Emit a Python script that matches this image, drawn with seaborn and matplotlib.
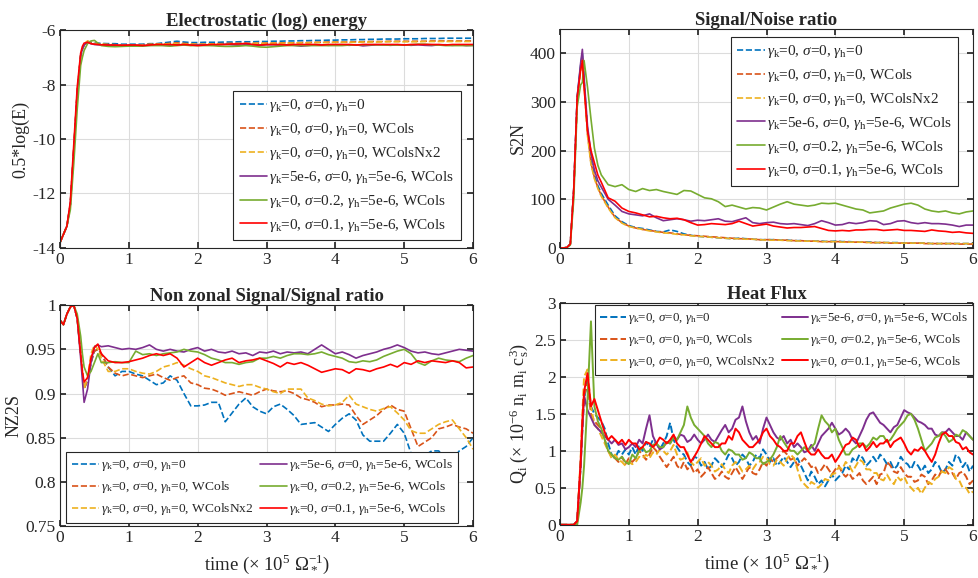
import numpy as np
import matplotlib
matplotlib.use("Agg")
import matplotlib.pyplot as plt
import seaborn as sns

# time axis (x 10^5 Omega_*^-1)
t = [0, 0.05, 0.1, 0.15, 0.2, 0.25, 0.3, 0.325, 0.35, 0.4, 0.45, 0.5, 0.55, 0.6, 0.7, 0.8, 0.9, 1.0,
     1.1, 1.2, 1.3, 1.4, 1.5, 1.6, 1.7, 1.8, 1.9, 2.0, 2.1, 2.2, 2.3, 2.4, 2.5, 2.6, 2.7, 2.8, 2.9, 3.0,
     3.1, 3.2, 3.3, 3.4, 3.5, 3.6, 3.7, 3.8, 3.9, 4.0, 4.1, 4.2, 4.3, 4.4, 4.5, 4.6, 4.7, 4.8, 4.9, 5.0,
     5.1, 5.2, 5.3, 5.4, 5.5, 5.6, 5.7, 5.8, 5.9, 6.0]

# finer time axis for the (noisy) heat flux
t_q = [0, 0.05, 0.1, 0.15, 0.2, 0.25, 0.3, 0.325, 0.35, 0.4, 0.45, 0.5, 0.55, 0.6,
       0.65, 0.7, 0.75, 0.8, 0.85, 0.9, 0.95, 1.0,
       1.05, 1.1, 1.15, 1.2, 1.25, 1.3, 1.35, 1.4, 1.45, 1.5, 1.55, 1.6, 1.65, 1.7, 1.75, 1.8, 1.85, 1.9, 1.95, 2.0,
       2.05, 2.1, 2.15, 2.2, 2.25, 2.3, 2.35, 2.4, 2.45, 2.5, 2.55, 2.6, 2.65, 2.7, 2.75, 2.8, 2.85, 2.9, 2.95, 3.0,
       3.05, 3.1, 3.15, 3.2, 3.25, 3.3, 3.35, 3.4, 3.45, 3.5, 3.55, 3.6, 3.65, 3.7, 3.75, 3.8, 3.85, 3.9, 3.95, 4.0,
       4.05, 4.1, 4.15, 4.2, 4.25, 4.3, 4.35, 4.4, 4.45, 4.5, 4.55, 4.6, 4.65, 4.7, 4.75, 4.8, 4.85, 4.9, 4.95, 5.0,
       5.05, 5.1, 5.15, 5.2, 5.25, 5.3, 5.35, 5.4, 5.45, 5.5, 5.55, 5.6, 5.65, 5.7, 5.75, 5.8, 5.85, 5.9, 5.95, 6.0]

labels = [r"$\gamma_{\rm k}$=0, $\sigma$=0, $\gamma_{\rm h}$=0",
          r"$\gamma_{\rm k}$=0, $\sigma$=0, $\gamma_{\rm h}$=0, WCols",
          r"$\gamma_{\rm k}$=0, $\sigma$=0, $\gamma_{\rm h}$=0, WColsNx2",
          r"$\gamma_{\rm k}$=5e-6, $\sigma$=0, $\gamma_{\rm h}$=5e-6, WCols",
          r"$\gamma_{\rm k}$=0, $\sigma$=0.2, $\gamma_{\rm h}$=5e-6, WCols",
          r"$\gamma_{\rm k}$=0, $\sigma$=0.1, $\gamma_{\rm h}$=5e-6, WCols"]
colors = ["#0072BD", "#D95319", "#EDB120", "#7E2F8E", "#77AC30", "#FF0000"]
styles = ["--", "--", "--", "-", "-", "-"]

# --- Electrostatic (log) energy ---
energy_blue = [-13.8, -13.5, -13.2, -12.4, -10.4, -8.3, -6.95, -6.7, -6.55, -6.42, -6.45, -6.48, -6.48, -6.49, -6.5, -6.5, -6.52, -6.52,
               -6.52, -6.52, -6.5, -6.5, -6.47, -6.44, -6.41, -6.44, -6.46, -6.46, -6.45, -6.45, -6.45, -6.44, -6.44, -6.43, -6.43, -6.43, -6.42, -6.42,
               -6.41, -6.41, -6.4, -6.4, -6.39, -6.39, -6.38, -6.38, -6.37, -6.37, -6.36, -6.36, -6.35, -6.35, -6.34, -6.34, -6.33, -6.33, -6.33, -6.32,
               -6.32, -6.32, -6.31, -6.31, -6.31, -6.3, -6.3, -6.3, -6.3, -6.3]
energy_orange = [-13.8, -13.5, -13.2, -12.4, -10.4, -8.3, -6.95, -6.7, -6.55, -6.42, -6.46, -6.5, -6.5, -6.52, -6.53, -6.54, -6.55, -6.56,
                 -6.56, -6.54, -6.52, -6.52, -6.51, -6.49, -6.47, -6.49, -6.51, -6.52, -6.52, -6.51, -6.5, -6.5, -6.49, -6.49, -6.49, -6.49, -6.48, -6.48,
                 -6.48, -6.47, -6.47, -6.47, -6.46, -6.46, -6.45, -6.45, -6.44, -6.44, -6.44, -6.44, -6.43, -6.43, -6.42, -6.42, -6.42, -6.41, -6.41, -6.41,
                 -6.41, -6.41, -6.41, -6.4, -6.4, -6.4, -6.4, -6.4, -6.4, -6.4]
energy_yellow = [-13.8, -13.5, -13.2, -12.4, -10.4, -8.3, -6.95, -6.7, -6.5, -6.4, -6.45, -6.5, -6.5, -6.52, -6.53, -6.54, -6.55, -6.55,
                 -6.55, -6.55, -6.53, -6.52, -6.51, -6.5, -6.5, -6.51, -6.52, -6.52, -6.52, -6.51, -6.51, -6.5, -6.5, -6.5, -6.5, -6.49, -6.49, -6.49,
                 -6.48, -6.48, -6.48, -6.47, -6.47, -6.47, -6.46, -6.46, -6.46, -6.45, -6.45, -6.45, -6.45, -6.44, -6.44, -6.44, -6.43, -6.43, -6.43, -6.43,
                 -6.43, -6.43, -6.42, -6.42, -6.42, -6.42, -6.42, -6.42, -6.42, -6.42]
energy_purple = [-13.8, -13.5, -13.2, -12.4, -10.4, -8.3, -6.95, -6.7, -6.55, -6.45, -6.5, -6.53, -6.54, -6.55, -6.55, -6.56, -6.56, -6.56,
                 -6.56, -6.57, -6.56, -6.54, -6.56, -6.57, -6.54, -6.54, -6.56, -6.54, -6.54, -6.56, -6.54, -6.52, -6.54, -6.56, -6.54, -6.54, -6.56, -6.54,
                 -6.54, -6.56, -6.54, -6.56, -6.59, -6.57, -6.54, -6.54, -6.56, -6.54, -6.54, -6.56, -6.54, -6.58, -6.56, -6.54, -6.54, -6.56, -6.54, -6.54,
                 -6.56, -6.54, -6.56, -6.57, -6.54, -6.54, -6.56, -6.54, -6.57, -6.56]
energy_green = [-13.8, -13.5, -13.2, -12.6, -10.9, -8.9, -7.3, -7.0, -6.75, -6.5, -6.4, -6.38, -6.48, -6.57, -6.6, -6.61, -6.6, -6.59,
                -6.59, -6.59, -6.57, -6.57, -6.57, -6.59, -6.57, -6.55, -6.57, -6.57, -6.57, -6.57, -6.59, -6.6, -6.6, -6.59, -6.57, -6.59, -6.62, -6.63,
                -6.61, -6.59, -6.57, -6.57, -6.57, -6.57, -6.57, -6.57, -6.57, -6.57, -6.57, -6.55, -6.55, -6.54, -6.54, -6.54, -6.55, -6.55, -6.55, -6.55,
                -6.54, -6.52, -6.52, -6.54, -6.55, -6.57, -6.57, -6.57, -6.57, -6.57]
energy_red = [-13.8, -13.5, -13.2, -12.3, -10.2, -8.1, -6.85, -6.6, -6.48, -6.45, -6.5, -6.52, -6.53, -6.54, -6.55, -6.55, -6.56, -6.55,
              -6.55, -6.57, -6.55, -6.53, -6.53, -6.53, -6.55, -6.53, -6.55, -6.57, -6.55, -6.53, -6.53, -6.53, -6.51, -6.51, -6.49, -6.53, -6.55, -6.53,
              -6.53, -6.53, -6.55, -6.53, -6.53, -6.53, -6.53, -6.55, -6.53, -6.53, -6.53, -6.53, -6.55, -6.53, -6.53, -6.53, -6.53, -6.53, -6.53, -6.55,
              -6.53, -6.53, -6.53, -6.53, -6.53, -6.55, -6.53, -6.53, -6.53, -6.53]

# --- Signal/Noise ratio ---
s2n_blue = [0, 0, 1, 8, 120, 310, 375, 400, 345, 240, 180, 150, 128, 112, 88, 66, 54, 46,
            42, 40, 37, 34, 33, 37, 34, 29, 26, 24, 23, 22, 21, 20, 19, 20, 19, 18, 17, 17,
            17, 16, 16, 15, 15, 14, 14, 14, 13, 14, 13, 13, 12, 12, 12, 11, 11, 11, 11, 10,
            10, 10, 10, 9, 9, 9, 9, 9, 9, 9]
s2n_orange = [0, 0, 1, 8, 120, 305, 370, 395, 340, 235, 175, 145, 124, 108, 84, 63, 52, 45,
              41, 38, 36, 34, 32, 31, 29, 27, 26, 25, 24, 23, 22, 21, 20, 19, 19, 18, 17, 17,
              17, 16, 16, 15, 15, 14, 14, 13, 13, 13, 13, 12, 12, 12, 11, 11, 11, 10, 10, 10,
              10, 10, 9, 9, 9, 9, 9, 8, 8, 8]
s2n_yellow = [0, 0, 1, 8, 115, 300, 365, 390, 335, 230, 172, 142, 122, 106, 82, 62, 51, 44,
              41, 38, 35, 33, 31, 30, 28, 27, 25, 24, 23, 22, 21, 20, 19, 19, 18, 18, 17, 16,
              16, 16, 15, 15, 14, 14, 14, 13, 13, 13, 12, 12, 12, 12, 11, 11, 11, 11, 10, 10,
              10, 10, 10, 9, 9, 9, 9, 9, 9, 9]
s2n_purple = [0, 0, 1, 8, 120, 310, 380, 408, 350, 250, 195, 160, 138, 125, 100, 88, 75, 70,
              68, 66, 70, 62, 56, 58, 60, 58, 55, 57, 56, 58, 60, 55, 54, 58, 62, 52, 50, 52,
              53, 50, 49, 50, 48, 46, 50, 56, 52, 47, 48, 52, 50, 52, 56, 55, 48, 50, 55, 56,
              52, 50, 52, 50, 50, 49, 47, 44, 47, 47]
s2n_green = [0, 0, 1, 6, 100, 290, 335, 340, 385, 330, 265, 205, 170, 150, 130, 126, 130, 120,
             116, 122, 118, 120, 116, 113, 110, 118, 117, 110, 103, 101, 95, 85, 88, 84, 80, 83, 82, 78,
             84, 90, 95, 90, 88, 86, 88, 92, 91, 92, 88, 84, 80, 78, 72, 74, 76, 82, 86, 90,
             92, 88, 80, 76, 74, 76, 72, 70, 74, 76]
s2n_red = [0, 0, 1, 8, 120, 310, 365, 385, 330, 240, 200, 175, 150, 135, 103, 96, 82, 75,
           72, 68, 64, 65, 62, 60, 61, 58, 52, 47, 48, 50, 49, 48, 50, 55, 50, 45, 47, 49,
           45, 43, 41, 42, 42, 43, 44, 40, 36, 35, 36, 35, 37, 37, 38, 38, 36, 37, 38, 36,
           36, 35, 34, 37, 35, 34, 32, 33, 31, 30]

# --- Non zonal Signal/Signal ratio ---
nz_blue = [0.983, 0.978, 0.99, 0.998, 1.0, 0.985, 0.945, 0.925, 0.905, 0.915, 0.935, 0.948, 0.95, 0.945, 0.93, 0.92, 0.925, 0.925,
           0.922, 0.92, 0.915, 0.91, 0.912, 0.92, 0.915, 0.9, 0.886, 0.886, 0.887, 0.89, 0.89, 0.868, 0.878, 0.888, 0.895, 0.885, 0.88, 0.877,
           0.885, 0.888, 0.882, 0.875, 0.865, 0.866, 0.867, 0.862, 0.857, 0.865, 0.872, 0.877, 0.87, 0.853, 0.846, 0.846, 0.846, 0.855, 0.865, 0.855,
           0.832, 0.832, 0.83, 0.835, 0.835, 0.828, 0.825, 0.835, 0.84, 0.85]
nz_orange = [0.983, 0.978, 0.99, 0.998, 1.0, 0.985, 0.945, 0.925, 0.905, 0.915, 0.935, 0.948, 0.95, 0.945, 0.93, 0.923, 0.92, 0.922,
             0.92, 0.918, 0.92, 0.922, 0.918, 0.915, 0.918, 0.92, 0.912, 0.91, 0.906, 0.905, 0.902, 0.898, 0.9, 0.902, 0.9, 0.898, 0.902, 0.905,
             0.903, 0.902, 0.903, 0.9, 0.895, 0.893, 0.89, 0.885, 0.887, 0.887, 0.888, 0.887, 0.875, 0.865, 0.87, 0.875, 0.882, 0.887, 0.882, 0.88,
             0.86, 0.84, 0.845, 0.85, 0.86, 0.862, 0.865, 0.862, 0.86, 0.855]
nz_yellow = [0.983, 0.978, 0.99, 0.998, 1.0, 0.985, 0.945, 0.925, 0.905, 0.918, 0.945, 0.955, 0.95, 0.94, 0.925, 0.925, 0.928, 0.928,
             0.925, 0.923, 0.922, 0.925, 0.93, 0.932, 0.935, 0.932, 0.928, 0.925, 0.92, 0.918, 0.915, 0.912, 0.91, 0.908, 0.91, 0.91, 0.907, 0.905,
             0.902, 0.9, 0.905, 0.905, 0.905, 0.895, 0.892, 0.888, 0.886, 0.887, 0.89, 0.898, 0.888, 0.885, 0.882, 0.88, 0.883, 0.885, 0.878, 0.87,
             0.858, 0.855, 0.855, 0.86, 0.865, 0.868, 0.87, 0.86, 0.85, 0.837]
nz_purple = [0.983, 0.978, 0.99, 0.998, 1.0, 0.985, 0.94, 0.915, 0.89, 0.905, 0.935, 0.953, 0.955, 0.953, 0.954, 0.952, 0.95, 0.951,
             0.95, 0.952, 0.955, 0.95, 0.948, 0.95, 0.948, 0.947, 0.95, 0.952, 0.948, 0.95, 0.947, 0.946, 0.948, 0.945, 0.946, 0.943, 0.947, 0.946,
             0.948, 0.945, 0.947, 0.946, 0.947, 0.945, 0.95, 0.955, 0.95, 0.945, 0.947, 0.944, 0.94, 0.943, 0.945, 0.947, 0.95, 0.952, 0.955, 0.952,
             0.948, 0.946, 0.947, 0.945, 0.944, 0.946, 0.948, 0.95, 0.949, 0.948]
nz_green = [0.983, 0.978, 0.99, 0.998, 1.0, 0.99, 0.965, 0.945, 0.93, 0.92, 0.925, 0.935, 0.945, 0.935, 0.935, 0.936, 0.935, 0.935,
            0.948, 0.944, 0.945, 0.943, 0.945, 0.946, 0.947, 0.95, 0.948, 0.947, 0.944, 0.94, 0.938, 0.935, 0.935, 0.933, 0.935, 0.936, 0.94, 0.94,
            0.942, 0.94, 0.943, 0.945, 0.945, 0.944, 0.945, 0.947, 0.944, 0.942, 0.94, 0.936, 0.935, 0.937, 0.936, 0.938, 0.942, 0.945, 0.948, 0.95,
            0.945, 0.935, 0.932, 0.937, 0.94, 0.938, 0.937, 0.936, 0.94, 0.943]
nz_red = [0.983, 0.978, 0.99, 0.998, 1.0, 0.985, 0.945, 0.925, 0.913, 0.918, 0.94, 0.952, 0.956, 0.945, 0.937, 0.935, 0.935, 0.936,
          0.938, 0.94, 0.943, 0.945, 0.943, 0.945, 0.94, 0.93, 0.935, 0.94, 0.935, 0.932, 0.935, 0.938, 0.94, 0.935, 0.937, 0.938, 0.94, 0.937,
          0.934, 0.93, 0.935, 0.933, 0.935, 0.932, 0.928, 0.924, 0.926, 0.928, 0.927, 0.923, 0.928, 0.927, 0.925, 0.928, 0.93, 0.933, 0.93, 0.935,
          0.933, 0.937, 0.935, 0.937, 0.936, 0.935, 0.937, 0.935, 0.929, 0.93]

# --- Heat Flux (on t_q) ---
q_blue = [0, 0, 0, 0, 0, 0.05, 0.8, 1.3, 1.7, 1.95, 1.6, 1.5, 1.45, 1.4,
          1.3, 1.1, 0.95, 0.9, 1.0, 0.95, 1.02, 0.95,
          1.05, 0.95, 1.08, 1.0, 1.12, 1.05, 1.15, 1.1, 1.02, 1.1, 1.2, 1.38, 1.15, 1.05, 0.98, 0.95, 0.85, 0.8, 0.92, 0.9,
          0.8, 0.85, 0.75, 0.8, 0.9, 0.85, 0.78, 0.85, 0.95, 0.9, 0.8, 0.85, 0.95, 0.9, 0.8, 0.85, 0.95, 0.9, 1.02, 0.95,
          0.85, 0.9, 0.8, 0.85, 0.92, 0.85, 0.78, 0.85, 0.9, 0.8, 0.7, 0.6, 0.72, 0.65, 0.55, 0.6, 0.52, 0.6, 0.68, 0.6,
          0.65, 0.7, 0.8, 0.75, 0.9, 0.85, 0.95, 0.9, 0.8, 0.85, 0.92, 0.85, 0.95, 0.9, 0.82, 0.85, 0.75, 0.8, 0.92, 0.85,
          0.82, 0.75, 0.85, 0.8, 0.72, 0.8, 0.7, 0.75, 0.85, 0.8, 0.7, 0.75, 0.85, 0.8, 0.95, 0.9, 0.78, 0.85, 0.72, 0.8]
q_orange = [0, 0, 0, 0, 0, 0.05, 0.8, 1.3, 1.75, 1.9, 1.5, 1.4, 1.35, 1.3,
            1.15, 1.0, 0.92, 0.9, 0.85, 0.92, 0.82, 0.9,
            0.85, 0.9, 1.0, 0.95, 0.88, 0.95, 1.05, 1.0, 0.92, 0.85, 0.78, 0.85, 0.92, 0.8, 0.75, 0.85, 0.75, 0.8, 0.7, 0.75,
            0.65, 0.7, 0.78, 0.7, 0.62, 0.65, 0.72, 0.65, 0.62, 0.7, 0.78, 0.7, 0.62, 0.7, 0.78, 0.7, 0.68, 0.75, 0.85, 0.8,
            0.9, 0.85, 0.9, 0.95, 1.0, 0.95, 0.88, 0.9, 0.8, 0.85, 0.9, 0.85, 0.78, 0.8, 0.7, 0.75, 0.82, 0.75, 0.68, 0.75,
            0.8, 0.7, 0.65, 0.7, 0.62, 0.65, 0.7, 0.6, 0.55, 0.6, 0.65, 0.55, 0.68, 0.7, 0.85, 0.8, 0.72, 0.7, 0.78, 0.7,
            0.65, 0.65, 0.58, 0.6, 0.68, 0.65, 0.55, 0.6, 0.68, 0.65, 0.75, 0.75, 0.68, 0.7, 0.62, 0.7, 0.72, 0.65, 0.55, 0.6]
q_yellow = [0, 0, 0, 0, 0, 0.05, 0.9, 1.5, 2.0, 2.1, 1.6, 1.35, 1.3, 1.2,
            1.1, 1.0, 0.9, 0.95, 0.88, 0.85, 0.8, 0.85,
            0.82, 0.85, 0.92, 0.9, 0.95, 0.9, 0.98, 0.95, 1.02, 1.0, 0.95, 1.0, 1.08, 0.95, 0.88, 0.9, 0.98, 0.85, 0.8, 0.85,
            0.9, 0.8, 0.85, 0.8, 0.72, 0.75, 0.82, 0.75, 0.7, 0.8, 0.85, 0.8, 0.72, 0.75, 0.8, 0.75, 0.82, 0.85, 0.92, 0.9,
            0.82, 0.8, 0.88, 0.85, 0.8, 0.9, 0.95, 0.9, 0.75, 0.6, 0.55, 0.5, 0.58, 0.55, 0.5, 0.55, 0.62, 0.6, 0.68, 0.7,
            0.78, 0.75, 0.85, 0.8, 0.72, 0.8, 0.88, 0.85, 0.75, 0.75, 0.7, 0.7, 0.62, 0.6, 0.68, 0.6, 0.55, 0.65, 0.6, 0.65,
            0.55, 0.5, 0.45, 0.5, 0.42, 0.5, 0.58, 0.55, 0.62, 0.65, 0.72, 0.7, 0.78, 0.75, 0.62, 0.6, 0.5, 0.5, 0.42, 0.45]
q_purple = [0, 0, 0, 0, 0, 0.05, 0.8, 1.3, 1.75, 1.55, 1.45, 1.35, 1.3, 1.25,
            1.2, 1.15, 1.1, 1.15, 1.08, 1.1, 1.02, 1.05,
            1.1, 1.05, 1.15, 1.1, 1.3, 1.48, 1.2, 1.1, 1.02, 1.05, 1.12, 1.1, 1.2, 1.15, 1.22, 1.2, 1.12, 1.15, 1.22, 1.15,
            1.1, 1.15, 1.22, 1.15, 1.12, 1.2, 1.28, 1.35, 1.25, 1.3, 1.42, 1.45, 1.6, 1.4, 1.25, 1.15, 1.2, 1.1, 1.3, 1.45,
            1.35, 1.25, 1.18, 1.15, 1.2, 1.1, 1.15, 1.05, 1.1, 1.05, 0.98, 1.0, 1.08, 1.0, 1.1, 1.2, 1.25, 1.3, 1.38, 1.3,
            1.22, 1.25, 1.3, 1.25, 1.15, 1.1, 1.2, 1.3, 1.42, 1.5, 1.52, 1.45, 1.38, 1.35, 1.3, 1.25, 1.32, 1.35, 1.45, 1.55,
            1.52, 1.5, 1.45, 1.4, 1.38, 1.35, 1.3, 1.3, 1.22, 1.2, 1.25, 1.25, 1.3, 1.25, 1.2, 1.2, 1.15, 1.25, 1.2, 1.15]
q_green = [0, 0, 0, 0, 0, 0.0, 0.3, 0.5, 0.8, 1.7, 2.75, 1.6, 1.4, 1.3,
           1.15, 1.0, 0.95, 0.9, 0.88, 0.92, 0.85, 0.82,
           0.95, 0.9, 1.0, 1.05, 0.98, 1.0, 1.08, 1.1, 1.05, 1.05, 1.12, 1.1, 1.18, 1.15, 1.25, 1.35, 1.6, 1.45, 1.35, 1.3,
           1.25, 1.2, 1.1, 1.05, 1.12, 1.1, 1.0, 0.95, 1.02, 1.0, 0.95, 0.95, 0.88, 0.9, 0.98, 0.95, 0.9, 0.9, 0.82, 0.85,
           0.88, 0.95, 1.05, 1.2, 1.12, 1.05, 1.0, 1.0, 0.95, 1.0, 1.05, 1.0, 1.05, 1.1, 1.3, 1.48, 1.4, 1.35, 1.25, 1.3,
           1.15, 1.05, 0.95, 0.95, 1.02, 1.05, 1.1, 1.1, 1.05, 1.1, 1.18, 1.15, 1.2, 1.2, 1.12, 1.15, 1.22, 1.3, 1.35, 1.4,
           1.48, 1.5, 1.42, 1.3, 1.15, 1.0, 1.05, 1.1, 1.18, 1.2, 1.25, 1.2, 1.12, 1.15, 1.22, 1.2, 1.28, 1.25, 1.2, 1.15]
q_red = [0, 0, 0, 0, 0, 0.05, 0.85, 1.4, 1.8, 2.05, 1.6, 1.7, 1.55, 1.4,
         1.25, 1.15, 1.2, 1.15, 1.1, 1.15, 1.08, 1.15,
         1.1, 1.1, 1.02, 1.05, 1.12, 1.1, 1.05, 1.1, 1.18, 1.15, 1.1, 1.15, 1.22, 1.1, 1.05, 1.05, 0.95, 0.85, 0.92, 1.0,
         1.1, 1.2, 1.15, 1.1, 1.05, 1.05, 1.1, 1.1, 1.2, 1.15, 1.3, 1.25, 1.15, 1.1, 1.05, 1.05, 1.1, 1.15, 1.25, 1.3,
         1.2, 1.15, 1.08, 1.05, 1.0, 1.0, 1.1, 1.1, 1.2, 1.25, 1.12, 1.0, 0.95, 0.95, 1.02, 0.95, 0.9, 0.9, 0.95, 0.85,
         0.92, 1.0, 1.08, 1.1, 1.18, 1.15, 1.05, 1.1, 1.0, 1.05, 1.12, 1.05, 1.1, 1.1, 1.15, 1.05, 1.12, 1.15, 1.18, 1.1,
         1.0, 0.95, 1.02, 1.0, 1.05, 1.0, 0.92, 0.85, 0.95, 1.1, 1.22, 1.25, 1.2, 1.2, 1.12, 1.1, 1.02, 1.05, 0.98, 0.95]

panels = [
    dict(title="Electrostatic (log) energy", ylabel="0.5*log(E)", x=t,
         series=[energy_blue, energy_orange, energy_yellow, energy_purple, energy_green, energy_red],
         ylim=(-14, -6), yticks=[-14, -12, -10, -8, -6], yticklabels=["-14", "-12", "-10", "-8", "-6"]),
    dict(title="Signal/Noise ratio", ylabel="S2N", x=t,
         series=[s2n_blue, s2n_orange, s2n_yellow, s2n_purple, s2n_green, s2n_red],
         ylim=(0, 450), yticks=[0, 100, 200, 300, 400], yticklabels=["0", "100", "200", "300", "400"]),
    dict(title="Non zonal Signal/Signal ratio", ylabel="NZ2S", x=t,
         series=[nz_blue, nz_orange, nz_yellow, nz_purple, nz_green, nz_red],
         ylim=(0.75, 1.0), yticks=[0.75, 0.8, 0.85, 0.9, 0.95, 1.0],
         yticklabels=["0.75", "0.8", "0.85", "0.9", "0.95", "1"]),
    dict(title="Heat Flux", x=t_q,
         ylabel=r"Q$_{\rm i}$ ($\times$ 10$^{-6}$ n$_{\rm i}$ m$_{\rm i}$ c$_{\rm s}^{3}$)",
         series=[q_blue, q_orange, q_yellow, q_purple, q_green, q_red],
         ylim=(0, 3), yticks=[0, 0.5, 1, 1.5, 2, 2.5, 3],
         yticklabels=["0", "0.5", "1", "1.5", "2", "2.5", "3"]),
]

sns.set_theme(style="ticks")
plt.rcParams["font.family"] = ["Liberation Serif", "DejaVu Serif"]
plt.rcParams["mathtext.fontset"] = "custom"
plt.rcParams["mathtext.rm"] = "Liberation Serif"
plt.rcParams["mathtext.it"] = "Liberation Serif:italic"
plt.rcParams["mathtext.bf"] = "Liberation Serif:bold"

fig = plt.figure(figsize=(9.79, 5.78), dpi=100)
rects = [[0.0613, 0.571, 0.4219, 0.377], [0.572, 0.571, 0.4219, 0.379],
         [0.0613, 0.090, 0.4219, 0.382], [0.572, 0.092, 0.4219, 0.384]]

legend_opts = [
    dict(loc="lower right", bbox_to_anchor=(0.97, 0.037), ncol=1, fontsize=11, handlelength=1.8),
    dict(loc="upper right", bbox_to_anchor=(0.964, 0.963), ncol=1, fontsize=11, handlelength=1.8),
    dict(loc="lower left", bbox_to_anchor=(0.015, 0.014), ncol=2, fontsize=9.7, handlelength=2.0),
    dict(loc="upper right", bbox_to_anchor=(1.0, 0.99), ncol=2, fontsize=9.4, handlelength=2.0),
]

for i, p in enumerate(panels):
    ax = fig.add_axes(rects[i])
    for vals, lab, col, ls in zip(p["series"], labels, colors, styles):
        lw = 1.4 if i == 3 else 1.2
        sns.lineplot(x=p["x"], y=vals, ax=ax, color=col, linestyle=ls, linewidth=lw, label=lab)
    ax.set_xlim(0, 6)
    ax.set_ylim(*p["ylim"])
    ax.set_xticks([0, 1, 2, 3, 4, 5, 6])
    ax.set_xticklabels(["0", "1", "2", "3", "4", "5", "6"])
    ax.set_yticks(p["yticks"])
    ax.set_yticklabels(p["yticklabels"])
    ax.grid(True, color="#dcdcdc", linewidth=0.8)
    ax.set_axisbelow(True)
    ax.tick_params(direction="in", top=True, right=True, length=4, labelsize=12.5,
                   colors="#262626", pad=3)
    for s in ax.spines.values():
        s.set_color("#262626")
        s.set_linewidth(0.8)
    ax.set_title(p["title"], fontsize=13.5, fontweight="bold", pad=3)
    ax.set_ylabel(p["ylabel"], fontsize=13, labelpad=2)
    if i >= 2:
        ax.set_xlabel(r"time ($\times$ 10$^5$ $\Omega_*^{-1}$)", fontsize=13.5, labelpad=5)
    else:
        ax.set_xlabel("")
    leg = ax.legend(**legend_opts[i], frameon=True, fancybox=False,
                    framealpha=1, edgecolor="#262626",
                    handletextpad=0.15, borderpad=0.4, labelspacing=0.45,
                    columnspacing=0.5, borderaxespad=0)
    leg.get_frame().set_linewidth(0.8)

fig.savefig("out.png", dpi=100)
